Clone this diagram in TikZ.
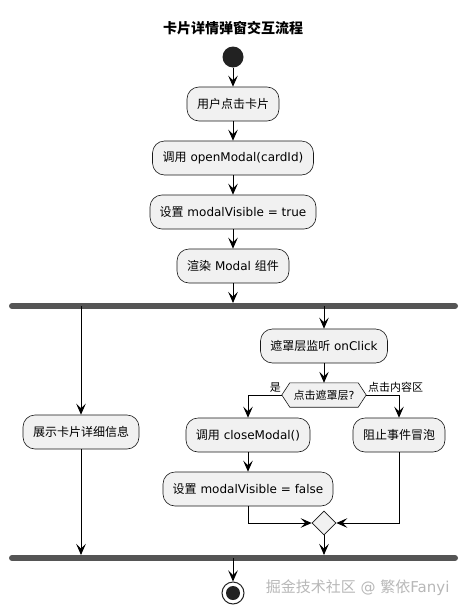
\documentclass[tikz,border=0pt]{standalone}
\usepackage{fontspec}
\setmainfont{DejaVu Sans}
\newfontfamily\cjk{Noto Sans CJK SC}
\usetikzlibrary{arrows.meta,shapes.geometric,calc}
\definecolor{boxfill}{HTML}{F1F1F1}
\definecolor{boxdraw}{HTML}{181818}
\definecolor{barcol}{HTML}{555555}
\definecolor{startcol}{HTML}{222222}
\newcommand\zh[1]{{\cjk #1}}
\begin{document}
\begin{tikzpicture}[x=1pt,y=-1pt,
 act/.style={draw=boxdraw, fill=boxfill, line width=0.6pt, rounded corners=12pt, minimum height=34pt, inner xsep=0pt, font=\fontsize{12}{14}\selectfont},
 arr/.style={draw=black, line width=0.9pt, -{Stealth[length=11pt,width=9.5pt,inset=4.5pt]}},
 bar/.style={draw=barcol, line width=6pt, line cap=round},
 lbl/.style={font=\fontsize{11}{13}\selectfont, inner sep=0pt},
]
\useasboundingbox[fill=white] (0,0) rectangle (467,613);
\node[font=\cjk\bfseries\fontsize{14}{16}\selectfont] (title) at (233,28) {卡片详情弹窗交互流程};
\node[circle, fill=startcol, minimum size=21pt, inner sep=0pt] (start) at (233,57) {};
\node[act, minimum width=92pt] (b1) at (233,104) {\zh{用户点击卡片}};
\node[act, minimum width=161pt] (b2) at (233,158) {\zh{调用} openModal(cardId)};
\node[act, minimum width=166pt] (b3) at (233,212) {\zh{设置} modalVisible = true};
\node[act, minimum width=112pt] (b4) at (233,266) {\zh{渲染} Modal \zh{组件}};
\draw[bar] (12,306) -- (455,306);
\coordinate (fin) at (233,306);
\coordinate (fl) at (81,306);
\coordinate (fr) at (324,306);
\node[act, minimum width=116pt] (show) at (81,432) {\zh{展示卡片详细信息}};
\node[act, minimum width=127pt] (listen) at (324,346) {\zh{遮罩层监听} onClick};
\node[inner sep=0pt, minimum width=84pt, minimum height=24pt, font=\fontsize{11}{13}\selectfont] (hex) at (324,395) {\zh{点击遮罩层}?};
\draw[draw=boxdraw, fill=boxfill, line width=0.6pt] (hex.west) -- ($(hex.north west)+(8,0)$) -- ($(hex.north east)+(-8,0)$) -- (hex.east) -- ($(hex.south east)+(-8,0)$) -- ($(hex.south west)+(8,0)$) -- cycle;
\node[inner sep=0pt, font=\fontsize{11}{13}\selectfont] (hextext) at (hex.center) {\zh{点击遮罩层}?};
\node[lbl, anchor=south east] (yes) at (281,393) {\zh{是}};
\node[lbl, anchor=south west] (no) at (368,393) {\zh{点击内容区}};
\node[act, minimum width=124pt] (close) at (248,435) {\zh{调用} closeModal()};
\node[act, minimum width=92pt] (stop) at (399,435) {\zh{阻止事件冒泡}};
\node[act, minimum width=170pt] (false) at (248,489) {\zh{设置} modalVisible = false};
\node[diamond, draw=boxdraw, fill=boxfill, line width=0.6pt, minimum width=24pt, minimum height=24pt, inner sep=0pt] (merge) at (324,523) {};
\draw[bar] (12,558) -- (455,558);
\coordinate (jl) at (81,558);
\coordinate (jr) at (324,558);
\coordinate (jout) at (233,558);
\node[circle, draw=startcol, line width=1pt, fill=white, minimum size=22pt, inner sep=0pt] (end) at (233,593) {};
\node[circle, fill=startcol, minimum size=14pt, inner sep=0pt] (endin) at (end.center) {};
\node[text=black!28, font=\fontsize{15}{17}\selectfont, anchor=east] (wm) at (453,588) {\zh{掘金技术社区} @ \zh{繁依}Fanyi};
% connectors
\draw[arr] (start) -- (b1);
\draw[arr] (b1) -- (b2);
\draw[arr] (b2) -- (b3);
\draw[arr] (b3) -- (b4);
\draw[arr, shorten >=3pt] (b4) -- (fin);
\draw[arr] (fl) -- (show);
\draw[arr] (fr) -- (listen);
\draw[arr] (listen) -- (hex.north);
\draw[arr] (hex.west) -| (close.north);
\draw[arr] (hex.east) -| (stop.north);
\draw[arr] (close) -- (false);
\draw[arr] (false.south) |- (merge.west);
\draw[arr] (stop.south) |- (merge.east);
\draw[arr, shorten >=3pt] (merge.south) -- (jr);
\draw[arr, shorten >=3pt] (show.south) -- (jl);
\draw[arr] (jout) -- (end);
\end{tikzpicture}
\end{document}
